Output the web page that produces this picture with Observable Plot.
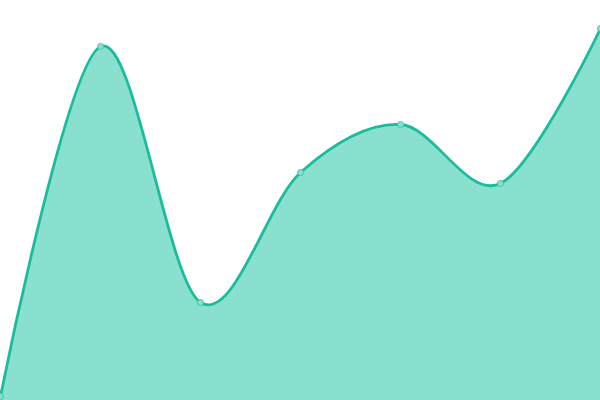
<!DOCTYPE html>
<html>
<head>
<meta charset="utf-8">
<script src="https://cdn.jsdelivr.net/npm/d3@7"></script>
<script src="https://cdn.jsdelivr.net/npm/@observablehq/plot@0.6"></script>
<style>
  html, body { margin: 0; padding: 0; background: #fff; }
  svg { display: block; }
</style>
</head>
<body>
<div id="chart"></div>
<script>
const categories = [0, 1, 2, 3, 4, 5, 6];
const values = [4, 354, 98, 228, 276, 217, 372];

const data = categories.map((c, i) => ({x: c, y: values[i]}));

const lineColor = "#1abc9c";
const fillColor = "#8ae0ce";

const chart = Plot.plot({
  width: 600,
  height: 400,
  margin: 0,
  x: {domain: [0, 6], axis: null},
  y: {domain: [0, 400], axis: null},
  marks: [
    Plot.areaY(data, {x: "x", y: "y", curve: "cardinal", fill: fillColor, fillOpacity: 1}),
    Plot.lineY(data, {x: "x", y: "y", curve: "cardinal", stroke: lineColor, strokeWidth: 2.8}),
    Plot.dot(data, {x: "x", y: "y", r: 3, fill: fillColor, stroke: "#3cc7aa", strokeWidth: 1})
  ]
});
document.getElementById("chart").appendChild(chart);
</script>
</body>
</html>
